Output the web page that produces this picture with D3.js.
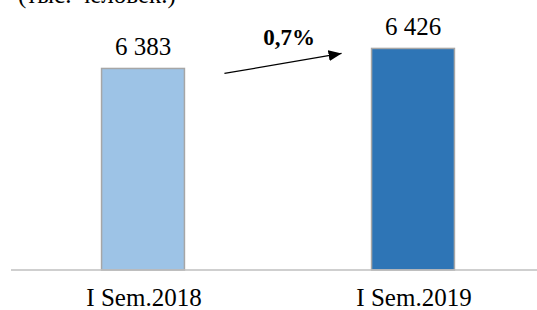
<!DOCTYPE html>
<html lang="ru">
<head>
    <meta charset="UTF-8">
    <title>I Sem.2018 - I Sem.2019</title>
    <script src="https://d3js.org/d3.v7.min.js"></script>
    <style>
        body {
            margin: 0;
            background: #fff;
        }
        text {
            font-family: "Liberation Serif", "DejaVu Serif", serif;
            fill: #000;
        }
    </style>
</head>
<body>
    <div id="chart"></div>
    <script>
        const categories = ["I Sem.2018", "I Sem.2019"];
        const values = [6383, 6426];
        const valueLabels = ["6 383", "6 426"];
        const colors = ["#9dc3e6", "#2e75b6"];
        const growthLabel = "0,7%";
        const unitLabel = "(тыс. человек.)";

        const width = 537;
        const height = 310;

        const svg = d3.select("#chart").append("svg")
            .attr("width", width)
            .attr("height", height);

        const x = d3.scaleBand()
            .domain(categories)
            .range([8, 548])
            .paddingInner(0.693)
            .paddingOuter(0.3465);

        const y = d3.scaleLinear()
            .domain([5950, 6500])
            .range([270, 14]);

        // unit caption, cut off at the top like in the source
        svg.append("text")
            .attr("x", 18)
            .attr("y", 3)
            .attr("font-size", 25)
            .text(unitLabel);

        svg.selectAll("rect.bar")
            .data(values)
            .enter().append("rect")
            .attr("class", "bar")
            .attr("x", (d, i) => x(categories[i]))
            .attr("y", d => y(d))
            .attr("width", x.bandwidth())
            .attr("height", d => y.range()[0] - y(d))
            .attr("fill", (d, i) => colors[i])
            .attr("stroke", "#a6a6a6")
            .attr("stroke-width", 1.5);

        svg.append("line")
            .attr("x1", 11)
            .attr("x2", width)
            .attr("y1", y.range()[0])
            .attr("y2", y.range()[0])
            .attr("stroke", "#bfbfbf")
            .attr("stroke-width", 1.5);

        svg.selectAll("text.value")
            .data(values)
            .enter().append("text")
            .attr("class", "value")
            .attr("x", (d, i) => x(categories[i]) + x.bandwidth() / 2)
            .attr("y", d => y(d) - 13)
            .attr("text-anchor", "middle")
            .attr("font-size", 25)
            .text((d, i) => valueLabels[i]);

        svg.selectAll("text.cat")
            .data(categories)
            .enter().append("text")
            .attr("class", "cat")
            .attr("x", d => x(d) + x.bandwidth() / 2 + 1)
            .attr("y", 306)
            .attr("text-anchor", "middle")
            .attr("font-size", 25)
            .text(d => d);

        // growth arrow
        svg.append("defs").append("marker")
            .attr("id", "head")
            .attr("viewBox", "0 0 13 11")
            .attr("refX", 13)
            .attr("refY", 5.5)
            .attr("markerWidth", 13)
            .attr("markerHeight", 11)
            .attr("markerUnits", "userSpaceOnUse")
            .attr("orient", "auto")
            .append("path")
            .attr("d", "M0,0 L13,5.5 L0,11 Z")
            .attr("fill", "#000");

        const ax1 = x(categories[0]) + x.bandwidth() + 40;
        const ay1 = y(values[0]) + 5;
        const ax2 = x(categories[1]) - 30;
        const ay2 = y(values[1]) + 5;

        svg.append("line")
            .attr("x1", ax1)
            .attr("y1", ay1)
            .attr("x2", ax2)
            .attr("y2", ay2)
            .attr("stroke", "#000")
            .attr("stroke-width", 1.2)
            .attr("marker-end", "url(#head)");

        svg.append("text")
            .attr("x", (ax1 + ax2) / 2 + 6)
            .attr("y", 45)
            .attr("text-anchor", "middle")
            .attr("font-size", 23)
            .attr("font-weight", "bold")
            .text(growthLabel);
    </script>
</body>
</html>
